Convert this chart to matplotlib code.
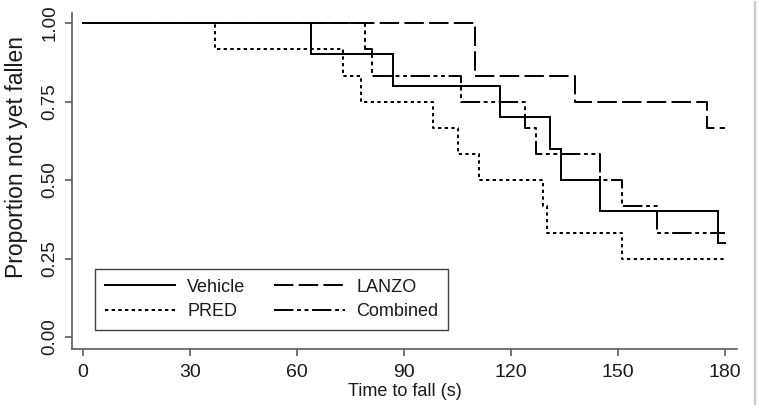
import matplotlib
matplotlib.use("Agg")
import matplotlib.pyplot as plt
from matplotlib.lines import Line2D

plt.rcParams["font.family"] = ["Liberation Sans", "DejaVu Sans"]
plt.rcParams["lines.scale_dashes"] = False

AXIS = "#5a5a5a"
TEXT = "#1a1a1a"

END_TIME = 180

# Kaplan-Meier steps: drop times (s) and proportion after drop
vehicle_times = [64, 87, 117, 131, 134, 145, 178]
vehicle_surv = [0.9, 0.8, 0.7, 0.6, 0.5, 0.4, 0.3]

lanzo_times = [110, 138, 175]
lanzo_surv = [0.833, 0.75, 0.667]

pred_times = [37, 73, 78, 98, 105, 111, 129, 130, 151]
pred_surv = [0.917, 0.833, 0.75, 0.667, 0.583, 0.5, 0.417, 0.333, 0.25]

comb_times = [79, 81, 106, 124, 127, 145, 151, 161]
comb_surv = [0.917, 0.833, 0.75, 0.667, 0.583, 0.5, 0.417, 0.333]

x_ticks = [0, 30, 60, 90, 120, 150, 180]
y_ticks = [0.0, 0.25, 0.5, 0.75, 1.0]

series = [
    ("Vehicle", vehicle_times, vehicle_surv, "-"),
    ("LANZO", lanzo_times, lanzo_surv, (0, (14, 3.8))),
    ("PRED", pred_times, pred_surv, (0, (2.4, 2.4))),
    ("Combined", comb_times, comb_surv, (0, (14, 2.6, 2.8, 2.6, 2.8, 2.6))),
]

fig = plt.figure(figsize=(7.59, 4.08), dpi=100)
fig.patch.set_facecolor("white")
ax = fig.add_axes([0.0949, 0.1446, 0.876, 0.8235])

handles = {}
for name, times, surv, ls in series:
    xs = [0] + times + [END_TIME]
    ys = [1.0] + surv + [surv[-1]]
    (ln,) = ax.step(xs, ys, where="post", color="black", linewidth=1.4,
                    linestyle=ls, label=name, solid_joinstyle="miter")
    handles[name] = ln

ax.set_xlim(-3.1, 183.3)
ax.set_ylim(-0.038, 1.032)

ax.set_xticks(x_ticks)
ax.set_xticklabels([str(t) for t in x_ticks], fontsize=14, color=TEXT)
ax.set_yticks(y_ticks)
ax.set_yticklabels([f"{v:.2f}" for v in y_ticks], fontsize=13.5, color=TEXT,
                   rotation=90, va="center")

ax.tick_params(axis="both", direction="out", length=5, width=1.2, color=AXIS)
ax.tick_params(axis="x", pad=6)
ax.tick_params(axis="y", pad=5)

for side in ["top", "right"]:
    ax.spines[side].set_visible(False)
for side in ["left", "bottom"]:
    ax.spines[side].set_color(AXIS)
    ax.spines[side].set_linewidth(1.2)

ax.set_xlabel("Time to fall (s)", fontsize=13, color=TEXT, labelpad=1)
ax.set_ylabel("Proportion not yet fallen", fontsize=16.5, color=TEXT)
ax.yaxis.set_label_coords(-0.066, 0.57)

# ncol=2 fills column by column: Vehicle/PRED left, LANZO/Combined right
order = ["Vehicle", "PRED", "LANZO", "Combined"]
leg = ax.legend(
    [handles[n] for n in order],
    order,
    ncol=2,
    loc="lower left",
    bbox_to_anchor=(0.0346, 0.0565),
    borderaxespad=0,
    fontsize=13,
    handlelength=3.9,
    handletextpad=0.65,
    columnspacing=1.6,
    labelspacing=0.42,
    borderpad=0.55,
    fancybox=False,
    framealpha=1,
    edgecolor="#404040",
)
leg.get_frame().set_linewidth(1.0)
for t in leg.get_texts():
    t.set_color(TEXT)

# thin grey border line on the right of the image
fig.add_artist(Line2D([755 / 759, 755 / 759], [0.01, 0.995],
                      transform=fig.transFigure, color="#c8c8c8", linewidth=1.6))

plt.savefig("out.png", dpi=100, facecolor=fig.get_facecolor())
plt.close()
